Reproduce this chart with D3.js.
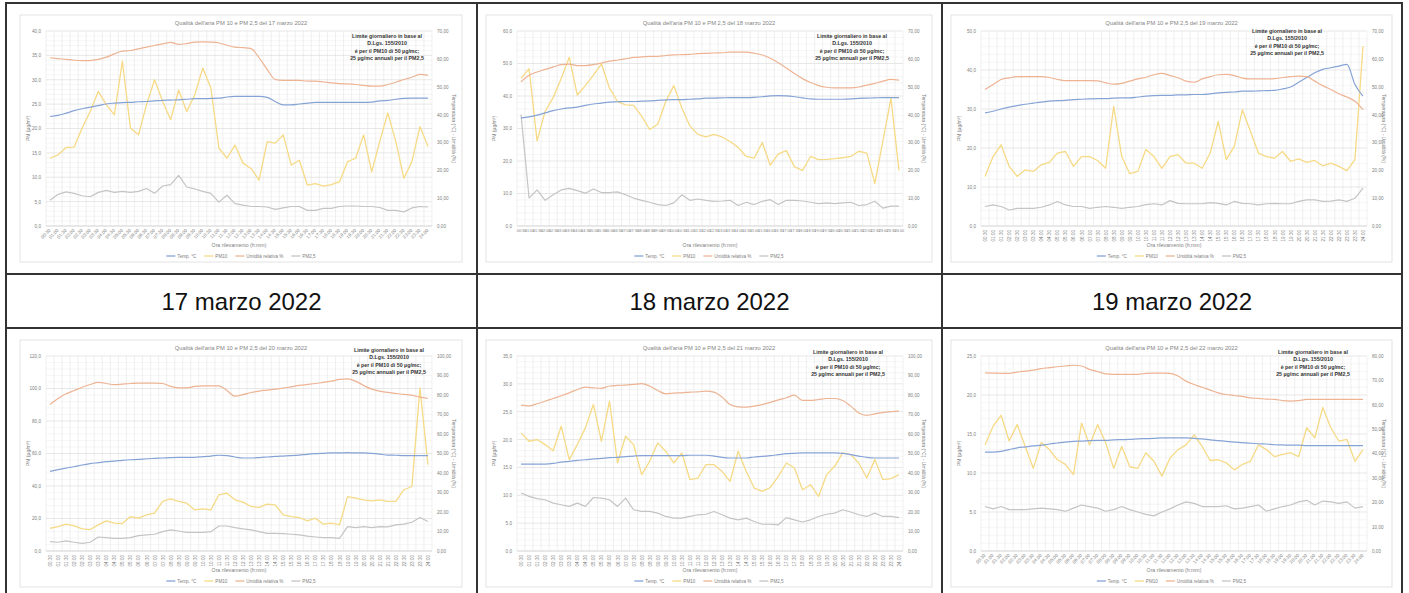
<!DOCTYPE html>
<html><head><meta charset="utf-8">
<script src="https://cdn.jsdelivr.net/npm/d3@7"></script>
<style>
html,body{margin:0;padding:0;background:#fff;}
svg{display:block;font-family:"Liberation Sans",Arial,sans-serif;}
</style></head><body>
<svg id="c" width="1409" height="593"></svg>
<script>
// ---------- DATA ----------
const categories = ["00:30","01:00","01:30","02:00","02:30","03:00","03:30","04:00","04:30","05:00","05:30","06:00","06:30","07:00","07:30","08:00","08:30","09:00","09:30","10:00","10:30","11:00","11:30","12:00","12:30","13:00","13:30","14:00","14:30","15:00","15:30","16:00","16:30","17:00","17:30","18:00","18:30","19:00","19:30","20:00","20:30","21:00","21:30","22:00","22:30","23:00","23:30","24:00"];

const dateLabels = ["17 marzo 2022","18 marzo 2022","19 marzo 2022"];
const titles = ["Qualità dell'aria PM 10 e PM 2,5 del 17 marzo 2022","Qualità dell'aria PM 10 e PM 2,5 del 18 marzo 2022","Qualità dell'aria PM 10 e PM 2,5 del 19 marzo 2022",
                "Qualità dell'aria PM 10 e PM 2,5 del 20 marzo 2022","Qualità dell'aria PM 10 e PM 2,5 del 21 marzo 2022","Qualità dell'aria PM 10 e PM 2,5 del 22 marzo 2022"];
const noteLines = ["Limite giornaliero in base al","D.Lgs. 155/2010","è per il PM10 di 50 µg/mc;","25 µg/mc annuali per il PM2,5"];
const seriesNames = ["Temp. °C","PM10","Umidità relativa %","PM2,5"];
const xTitle = "Ora rilevamento (h:mm)";
const yLeftTitle = "PM (µg/m³)";
const yRightTitle = "Temperatura (°C) - Umidità (%)";

// 17 marzo
const pm10_17 = [13.9,14.6,16.1,16.2,20.1,23.5,27.6,24.9,22.8,33.8,20.1,18.7,24.9,30.0,25.6,21.8,27.9,23.5,26.9,32.4,28.3,16.0,13.9,16.6,12.9,11.8,9.4,17.3,17.0,18.7,12.5,13.5,8.4,8.7,8.2,8.5,9.1,13.2,13.9,18.7,11.1,17.3,23.2,17.3,9.8,13.2,20.4,16.3];
const pm25_17 = [5.3,6.5,7.0,6.7,6.2,6.0,6.9,7.3,6.9,7.1,6.9,7.1,7.7,6.7,8.2,8.5,10.4,8.0,7.6,7.1,6.7,4.9,6.3,4.6,4.3,4.0,4.0,3.9,3.4,3.7,4.0,4.0,3.2,3.2,3.6,3.6,4.0,4.1,4.1,4.0,4.0,3.8,3.2,3.2,2.9,3.7,4.0,3.9];
const umid_17 = [60.4,60.1,59.8,59.5,59.4,59.4,59.8,60.6,61.8,62.8,63.0,63.6,64.2,64.8,65.4,65.9,65.2,65.5,66.0,66.1,66.0,65.7,64.9,64.2,64.0,63.7,60.4,56.2,52.6,52.3,52.3,52.3,52.0,52.0,51.7,51.4,51.1,51.0,50.8,50.5,50.2,50.2,50.8,51.6,52.6,53.4,54.4,54.1];
const temp_17 = [39.3,39.7,40.5,41.4,42.1,42.7,43.2,43.8,44.1,44.3,44.4,44.6,44.7,44.9,45.1,45.2,45.3,45.5,45.7,45.7,45.8,45.9,46.3,46.5,46.5,46.5,46.5,46.2,44.7,43.5,43.5,43.8,44.1,44.4,44.4,44.4,44.4,44.4,44.4,44.4,44.5,44.9,45.1,45.5,45.8,45.9,45.9,45.9];
const leftTicks_17 = [0,5,10,15,20,25,30,35,40];
const rightTicks_17 = [0,10,20,30,40,50,60,70];

// 18 marzo
const pm10_18 = [45.4,48.4,26.2,35.3,39.5,45.4,51.9,40.3,43.2,46.4,49.9,42.4,38.3,37.3,37.1,33.8,29.7,31.3,38.3,43.2,36.3,30.8,28.2,27.4,28.2,27.4,26.0,24.2,21.4,20.9,25.7,18.7,22.2,23.2,18.2,17.1,21.4,20.4,20.5,20.7,21.0,21.4,23.0,22.4,13.1,26.2,39.3,17.1];
const pm25_18 = [34.3,8.6,11.1,7.9,9.6,11.1,11.6,10.9,10.1,11.4,10.3,10.3,10.5,9.6,8.6,7.9,7.3,6.6,6.3,7.1,9.6,7.9,8.3,7.9,7.6,7.7,7.9,6.3,7.3,6.6,7.6,8.1,6.6,7.9,7.9,7.7,7.3,6.9,7.1,6.9,7.1,7.3,6.3,6.6,7.6,5.5,6.1,6.1];
const umid_18 = [51.8,54.1,55.3,56.2,57.1,57.9,58.1,57.6,57.6,57.9,58.5,59.2,59.6,60.0,60.5,60.7,60.9,60.9,61.2,61.4,61.5,61.6,61.9,62.0,62.1,62.2,62.4,62.4,62.4,62.0,61.4,60.2,58.6,56.7,54.7,52.9,51.5,50.4,49.8,49.6,49.6,49.6,49.9,50.6,51.2,52.0,52.6,52.4];
const temp_18 = [38.8,39.2,39.8,40.6,41.4,42.0,42.4,42.7,43.3,43.8,44.1,44.5,44.6,44.7,44.7,44.8,44.9,45.1,45.3,45.4,45.4,45.5,45.6,45.9,45.9,46.0,46.1,46.1,46.1,46.2,46.4,46.7,46.8,46.7,46.4,46.0,45.6,45.5,45.5,45.5,45.5,45.6,45.8,45.9,46.0,46.1,46.1,46.1];
const leftTicks_18 = [0,10,20,30,40,50,60];
const rightTicks_18 = [0,10,20,30,40,50,60,70];

// 19 marzo
const pm10_19 = [12.7,17.8,20.8,15.3,12.7,14.4,14.0,15.7,16.3,18.7,19.1,15.3,17.8,17.8,16.8,14.8,30.7,17.8,13.4,14.0,19.6,17.8,14.8,17.8,18.3,16.1,16.1,14.8,18.7,26.8,17.0,20.4,29.8,24.3,18.7,17.8,17.4,19.1,16.6,17.2,16.3,16.8,15.4,16.1,15.3,14.2,17.0,46.1];
const pm25_19 = [5.0,5.4,5.0,4.1,4.5,4.5,4.5,4.8,5.4,6.3,5.4,5.0,5.0,4.5,4.8,5.0,4.8,4.5,4.8,5.0,5.5,5.7,5.4,6.5,5.8,5.7,5.7,5.7,6.0,5.8,5.4,6.3,5.8,5.7,5.4,5.7,5.8,5.7,5.7,6.3,6.7,6.7,6.3,6.4,6.7,6.3,7.1,9.7];
const umid_19 = [49.0,50.8,52.6,53.2,53.6,53.6,53.6,53.6,53.3,52.6,52.2,52.2,52.2,52.2,52.1,51.4,50.9,51.2,52.0,52.8,53.4,54.3,54.8,54.0,53.2,52.0,51.6,52.8,53.6,54.3,54.4,54.0,53.1,52.8,52.8,52.8,52.9,53.3,53.6,53.8,53.6,52.0,50.4,49.0,47.5,46.3,44.8,41.8];
const temp_19 = [40.6,41.2,42.0,42.7,43.2,43.7,44.1,44.5,44.8,45.0,45.1,45.4,45.5,45.6,45.7,45.7,45.9,46.0,46.0,46.3,46.6,46.8,46.9,46.9,47.1,47.1,47.2,47.2,47.4,47.8,48.0,48.1,48.4,48.4,48.5,48.6,48.7,49.2,49.9,51.6,53.3,55.0,56.2,56.8,57.4,58.0,50.8,46.6];
const leftTicks_19 = [0,10,20,30,40,50];
const rightTicks_19 = [0,10,20,30,40,50,60,70];

// 20 marzo
const pm10_20 = [14.0,15.0,16.5,15.4,13.6,13.2,16.1,18.5,17.1,16.9,21.2,20.2,22.2,23.3,30.5,32.1,30.5,29.4,25.3,25.9,25.3,34.6,35.6,31.5,30.1,27.4,26.8,28.8,28.4,22.2,21.2,20.6,18.5,20.2,16.5,17.1,16.1,33.5,32.5,31.5,30.9,31.5,30.5,30.5,37.7,39.7,100.4,53.1];
const pm25_20 = [5.8,5.4,6.2,5.4,4.7,5.4,8.6,8.2,7.8,7.8,8.2,9.5,9.9,10.3,11.9,13.0,12.3,11.5,11.5,11.5,11.9,15.4,15.4,14.4,13.6,13.0,11.9,10.9,10.9,10.7,10.3,9.9,9.1,8.6,8.2,8.2,7.8,15.0,14.4,15.0,14.4,15.0,14.8,16.1,16.5,17.7,20.6,18.1];
const umid_20 = [75.1,78.2,80.6,82.3,84.0,85.4,86.5,85.9,85.3,85.6,85.9,86.1,86.1,86.1,85.9,84.4,83.7,83.7,84.4,84.7,84.7,84.7,82.3,79.4,80.2,81.3,82.0,82.5,83.0,83.5,84.2,84.9,85.4,85.9,86.5,87.1,88.0,88.3,87.1,84.9,83.0,82.0,81.3,80.8,80.3,79.9,78.9,78.2];
const temp_20 = [40.8,41.7,42.5,43.2,44.1,44.8,45.3,45.8,46.1,46.5,46.8,47.0,47.3,47.5,47.7,47.9,48.0,48.0,48.0,48.4,48.7,49.1,48.9,48.2,47.7,47.7,47.9,48.2,48.5,48.7,48.9,49.2,49.6,49.9,50.1,50.3,50.3,50.4,50.3,50.3,50.1,49.7,49.2,49.1,48.9,48.9,48.9,48.9];
const leftTicks_20 = [0,20,40,60,80,100,120];
const rightTicks_20 = [0,10,20,30,40,50,60,70,80,90,100];

// 21 marzo
const pm10_21 = [21.2,19.7,20.0,19.1,18.0,22.4,16.4,19.1,22.1,26.3,19.7,26.9,15.8,20.6,19.1,13.7,16.1,19.4,17.9,15.8,17.6,12.8,13.1,15.5,15.5,14.3,12.5,17.9,14.3,11.3,10.7,11.4,13.4,15.8,14.9,11.0,11.9,9.8,13.7,15.2,17.6,17.3,15.8,13.1,16.4,12.8,13.0,13.7];
const pm25_21 = [10.4,9.8,9.4,9.2,8.6,8.3,8.0,8.6,8.0,9.6,9.5,9.2,8.0,9.5,7.4,7.1,7.1,6.8,6.2,5.9,5.9,6.2,6.5,6.6,7.1,6.5,5.9,5.6,5.9,5.3,4.8,4.8,4.7,6.0,5.6,5.2,5.6,6.2,6.6,6.8,7.4,7.0,6.5,6.2,6.8,6.2,6.2,6.0];
const umid_21 = [74.8,74.4,75.5,76.8,78.2,79.6,81.1,82.8,84.0,83.7,83.4,84.6,84.9,85.1,85.4,85.8,84.6,82.3,80.6,81.0,81.1,81.5,81.6,82.0,81.5,78.9,75.1,73.9,73.8,74.3,75.1,76.2,77.5,78.6,79.9,77.2,77.2,77.7,78.2,78.2,77.2,74.3,70.8,69.6,70.3,71.0,71.4,71.7];
const temp_21 = [44.6,44.6,44.6,44.6,44.9,45.6,46.0,46.5,46.8,47.2,47.5,47.9,48.0,48.4,48.7,48.9,48.9,48.9,48.9,48.9,48.9,49.1,49.1,49.1,48.7,48.0,47.7,47.7,47.7,48.2,48.5,48.9,49.4,49.9,50.1,50.3,50.3,50.3,50.3,50.3,50.1,49.4,48.7,48.0,47.7,47.7,47.7,47.7];
const leftTicks_21 = [0,5,10,15,20,25,30,35];
const rightTicks_21 = [0,10,20,30,40,50,60,70,80,90,100];

// 22 marzo
const pm10_22 = [13.6,16.0,17.4,14.1,16.2,13.4,10.6,13.9,13.0,11.7,11.1,9.8,16.4,13.6,16.2,13.9,10.6,13.4,10.8,10.6,12.6,11.5,9.6,11.9,13.0,13.6,14.9,13.4,11.6,11.7,11.3,10.4,11.1,11.5,13.6,13.0,12.1,12.4,12.6,12.1,15.8,14.5,18.4,15.8,14.1,14.3,11.5,13.0];
const pm25_22 = [5.7,5.4,5.7,5.3,5.3,5.3,5.4,5.5,5.4,5.3,5.1,5.5,5.9,5.7,5.5,5.1,5.3,5.7,5.3,5.0,4.7,4.5,5.0,5.4,5.9,6.3,6.1,5.7,5.7,5.7,5.8,5.4,5.5,5.7,5.9,5.1,5.4,5.7,5.9,6.3,6.5,5.9,6.4,6.3,6.1,6.3,5.5,5.7];
const umid_22 = [73.1,73.0,72.9,72.9,73.4,73.8,74.2,74.8,75.2,75.6,75.9,76.2,75.9,74.5,73.6,72.7,72.5,72.5,72.5,72.5,72.9,73.0,73.0,72.9,71.8,69.7,68.3,67.2,66.0,64.9,64.2,63.8,63.4,62.8,62.6,62.3,62.2,61.7,61.5,61.7,62.2,62.2,62.2,62.2,62.2,62.2,62.2,62.2];
const temp_22 = [40.6,40.6,40.9,41.6,42.3,42.7,43.1,43.4,43.9,44.3,44.7,45.0,45.1,45.3,45.4,45.4,45.6,45.7,45.8,46.0,46.1,46.2,46.4,46.4,46.4,46.4,46.2,46.0,45.6,45.3,45.0,44.7,44.5,44.2,44.0,43.9,43.6,43.5,43.4,43.4,43.2,43.2,43.2,43.2,43.2,43.2,43.2,43.2];
const leftTicks_22 = [0,5,10,15,20,25];
const rightTicks_22 = [0,10,20,30,40,50,60,70,80];

// ---------- build chart table from arrays ----------
const charts = [
  {title:titles[0], pm10:pm10_17, pm25:pm25_17, umid:umid_17, temp:temp_17, lt:leftTicks_17, rt:rightTicks_17},
  {title:titles[1], pm10:pm10_18, pm25:pm25_18, umid:umid_18, temp:temp_18, lt:leftTicks_18, rt:rightTicks_18},
  {title:titles[2], pm10:pm10_19, pm25:pm25_19, umid:umid_19, temp:temp_19, lt:leftTicks_19, rt:rightTicks_19},
  {title:titles[3], pm10:pm10_20, pm25:pm25_20, umid:umid_20, temp:temp_20, lt:leftTicks_20, rt:rightTicks_20},
  {title:titles[4], pm10:pm10_21, pm25:pm25_21, umid:umid_21, temp:temp_21, lt:leftTicks_21, rt:rightTicks_21},
  {title:titles[5], pm10:pm10_22, pm25:pm25_22, umid:umid_22, temp:temp_22, lt:leftTicks_22, rt:rightTicks_22}
];

// ---------- LAYOUT / STYLE ----------
const COLORS = {blue:"#86a3d6", yellow:"#f6da85", orange:"#edb393", gray:"#c4c4c4"};
const COLS = [
  {cx0:6,   cx1:477,  bx0:20,  bx1:462,  px0:46,  px1:432},
  {cx0:477, cx1:942,  bx0:486, bx1:932,  px0:517, px1:903},
  {cx0:942, cx1:1402, bx0:951, bx1:1392, px0:981, px1:1367}
];
const ROWS = [{by0:15}, {by0:340}];
const LABEL_ROT = [-45, 0, -90, -90, -90, -45];
const NOTE_POS = [{dx:-45,dy:23},{dx:-51,dy:23},{dx:-80,dy:18},{dx:-43,dy:12},{dx:-55,dy:14},{dx:-54,dy:14}];
const TEXT_GRAY = "#808080";

const svg = d3.select("#c");
const commaFmt = f => v => d3.format(f)(v).replace(".", ",");

charts.forEach((ch, i) => {
  const col = COLS[i % 3], row = ROWS[Math.floor(i / 3)];
  const by0 = row.by0, by1 = by0 + 247;
  const px0 = col.px0, px1 = col.px1, py0 = by0 + 16, py1 = by0 + 211;
  const g = svg.append("g");

  g.append("rect").attr("x", col.bx0).attr("y", by0)
    .attr("width", col.bx1 - col.bx0).attr("height", by1 - by0)
    .attr("fill", "#fff").attr("stroke", "#dcdcdc").attr("stroke-width", 0.8);

  const x = d3.scalePoint().domain(categories).range([px0, px1]).padding(0.5);
  const band = x.step();
  const yL = d3.scaleLinear().domain([ch.lt[0], ch.lt[ch.lt.length - 1]]).range([py1, py0]);
  const yR = d3.scaleLinear().domain([ch.rt[0], ch.rt[ch.rt.length - 1]]).range([py1, py0]);

  // minor horizontal gridlines
  const stepL = ch.lt[1] - ch.lt[0];
  const minor = [];
  ch.lt.slice(0, -1).forEach(t => { for (let m = 1; m < 5; m++) minor.push(t + stepL * m / 5); });
  g.append("g").selectAll("line").data(minor).join("line")
    .attr("x1", px0).attr("x2", px1).attr("y1", d => yL(d)).attr("y2", d => yL(d))
    .attr("stroke", "#f0f0f0").attr("stroke-width", 0.6);
  // vertical gridlines at category boundaries
  g.append("g").selectAll("line").data(d3.range(categories.length + 1)).join("line")
    .attr("x1", k => px0 + k * band).attr("x2", k => px0 + k * band)
    .attr("y1", py0).attr("y2", py1)
    .attr("stroke", "#e6e6e6").attr("stroke-width", 0.6);
  // major horizontal gridlines
  g.append("g").selectAll("line").data(ch.lt).join("line")
    .attr("x1", px0).attr("x2", px1).attr("y1", d => yL(d)).attr("y2", d => yL(d))
    .attr("stroke", "#dcdcdc").attr("stroke-width", 0.7);

  // axes
  const decL = stepL < 1 ? ".2f" : ".1f";
  const axL = g.append("g").attr("transform", `translate(${px0 - 3},0)`)
    .call(d3.axisLeft(yL).tickValues(ch.lt).tickSize(0).tickPadding(2).tickFormat(commaFmt(decL)));
  const axR = g.append("g").attr("transform", `translate(${px1 + 3},0)`)
    .call(d3.axisRight(yR).tickValues(ch.rt).tickSize(0).tickPadding(2).tickFormat(commaFmt(".2f")));
  const axB = g.append("g").attr("transform", `translate(0,${py1})`)
    .call(d3.axisBottom(x).tickSize(0).tickPadding(3));
  [axL, axR, axB].forEach(a => {
    a.select(".domain").remove();
    a.selectAll("text").attr("font-size", 4.6).attr("fill", TEXT_GRAY).attr("font-family", "Liberation Sans, Arial, sans-serif");
  });
  g.append("line").attr("x1", px0).attr("x2", px1).attr("y1", py1).attr("y2", py1)
    .attr("stroke", "#d4d4d4").attr("stroke-width", 0.7);
  const rot = LABEL_ROT[i];
  if (rot !== 0) {
    axB.selectAll("text")
      .attr("text-anchor", "end").attr("dy", "0.32em")
      .attr("transform", `translate(0,3) rotate(${rot})`).attr("y", 0).attr("x", -1);
  } else {
    axB.selectAll("text").attr("font-size", 3.8);
  }

  // lines: primary (PM) first, secondary on top
  const lineL = d3.line().x((d, k) => x(categories[k])).y(d => yL(d)).curve(d3.curveLinear);
  const lineR = d3.line().x((d, k) => x(categories[k])).y(d => yR(d)).curve(d3.curveMonotoneX);
  const clipId = "clip" + i;
  g.append("clipPath").attr("id", clipId).append("rect")
    .attr("x", px0 - 2).attr("y", py0 - 6).attr("width", px1 - px0 + 4).attr("height", py1 - py0 + 8);
  const lg = g.append("g").attr("clip-path", `url(#${clipId})`).attr("stroke-linejoin", "round");
  lg.append("path").datum(ch.pm25).attr("d", lineL).attr("fill", "none").attr("stroke", COLORS.gray).attr("stroke-width", 1.2);
  lg.append("path").datum(ch.pm10).attr("d", lineL).attr("fill", "none").attr("stroke", COLORS.yellow).attr("stroke-width", 1.3);
  lg.append("path").datum(ch.temp).attr("d", lineR).attr("fill", "none").attr("stroke", COLORS.blue).attr("stroke-width", 1.2);
  lg.append("path").datum(ch.umid).attr("d", lineR).attr("fill", "none").attr("stroke", COLORS.orange).attr("stroke-width", 1.2);

  // title
  g.append("text").attr("x", (col.bx0 + col.bx1) / 2).attr("y", by0 + 10)
    .attr("text-anchor", "middle").attr("font-size", 5.8).attr("fill", "#858585").text(ch.title);

  // note
  const np = NOTE_POS[i];
  g.append("g").selectAll("text").data(noteLines).join("text")
    .attr("x", px1 + np.dx).attr("y", (d, k) => by0 + np.dy + k * 7.3)
    .attr("text-anchor", "middle").attr("font-size", 5.3).attr("font-weight", "bold").attr("fill", "#333")
    .text(d => d);

  // axis titles
  g.append("text").attr("transform", `translate(${col.bx0 + 10},${(py0 + py1) / 2}) rotate(-90)`)
    .attr("text-anchor", "middle").attr("font-size", 5).attr("fill", TEXT_GRAY).text(yLeftTitle);
  g.append("text").attr("transform", `translate(${col.bx1 - 10},${(py0 + py1) / 2}) rotate(90)`)
    .attr("text-anchor", "middle").attr("font-size", 5).attr("fill", TEXT_GRAY).text(yRightTitle);
  g.append("text").attr("x", (px0 + px1) / 2).attr("y", by0 + 232)
    .attr("text-anchor", "middle").attr("font-size", 5.2).attr("fill", TEXT_GRAY).text(xTitle);

  // legend
  const legCols = [COLORS.blue, COLORS.yellow, COLORS.orange, COLORS.gray];
  const leg = g.append("g");
  let lx = 0;
  seriesNames.forEach((n, k) => {
    const it = leg.append("g").attr("transform", `translate(${lx},0)`);
    it.append("line").attr("x1", 0).attr("x2", 9).attr("y1", 0).attr("y2", 0)
      .attr("stroke", legCols[k]).attr("stroke-width", 1.3);
    const t = it.append("text").attr("x", 11).attr("y", 1.6).attr("font-size", 4.6).attr("fill", TEXT_GRAY).text(n);
    lx += 11 + t.node().getComputedTextLength() + 8;
  });
  leg.attr("transform", `translate(${(col.bx0 + col.bx1) / 2 - (lx - 8) / 2},${by0 + 241})`);
});

// ---------- table grid ----------
const grid = svg.append("g").attr("stroke", "#333").attr("stroke-width", 2);
grid.append("line").attr("x1", 5).attr("x2", 1403).attr("y1", 3).attr("y2", 3);
[274, 328].forEach(y => grid.append("line").attr("x1", 5).attr("x2", 1403).attr("y1", y).attr("y2", y));
[6, 477, 942, 1402].forEach(xv => grid.append("line").attr("x1", xv).attr("x2", xv).attr("y1", 2).attr("y2", 593));

// date labels
svg.append("g").selectAll("text").data(dateLabels).join("text")
  .attr("x", (d, k) => (COLS[k].cx0 + COLS[k].cx1) / 2).attr("y", 310)
  .attr("text-anchor", "middle").attr("font-size", 24).attr("fill", "#111")
  .text(d => d);
</script>
</body></html>
